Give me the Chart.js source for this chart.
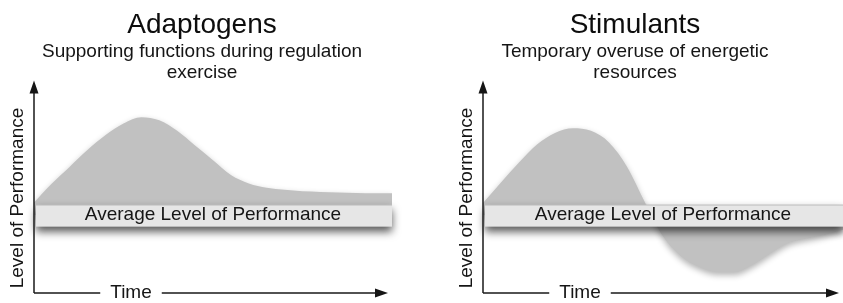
<!DOCTYPE html>
<html>
<head>
<meta charset="utf-8">
<script src="https://cdn.jsdelivr.net/npm/chart.js@4.4.1/dist/chart.umd.min.js"></script>
<style>
    body { margin: 0; background: #fff; width: 843px; height: 303px; position: relative; overflow: hidden; }
    canvas { position: absolute; top: 0; }
    #adaptogens { left: 0; }
    #stimulants { left: 421px; }
</style>
</head>
<body>
<canvas id="adaptogens" width="404" height="303"></canvas>
<canvas id="stimulants" width="422" height="303"></canvas>
<script>
// time steps (percent of the period shown)
const timeSteps = [0, 5, 10, 15, 20, 25, 30, 35, 40, 45, 50, 55, 60, 65, 70, 75, 80, 85, 90, 95, 100];

// level of performance (0 = x axis, 100 = top)
const adaptogenLevel = [43, 52, 60, 68, 75, 80.5, 83.5, 82, 77, 70, 63, 56, 52, 50, 49, 48.3, 48, 47.7, 47.5, 47.4, 47.4];
const stimulantLevel = [42.7, 52.5, 62, 70.5, 76, 78.2, 77, 71.5, 60, 43, 27, 17.5, 12.5, 10, 10, 13.5, 19, 24, 26, 27.8, 30];

// the "average level of performance" band
const averageLevel = 37;
const averageBand = [31.5, 42];

Chart.defaults.font.family = '"Liberation Sans", Arial, sans-serif';
Chart.defaults.color = '#111';

//band, axes, arrows and labels
const diagramPlugin = {
    id: 'diagram',
    beforeDatasetsDraw(chart) {
        const ctx = chart.ctx;
        ctx.save();
        ctx.shadowColor = 'rgba(0,0,0,0.3)';
        ctx.shadowBlur = 6;
        ctx.shadowOffsetY = 3;
    },
    afterDatasetsDraw(chart) {
        const ctx = chart.ctx;
        ctx.restore();
        const area = chart.chartArea;
        const y = chart.scales.y;
        const top = y.getPixelForValue(averageBand[1]);
        const bottom = y.getPixelForValue(averageBand[0]);
        const left = area.left + 2;

        ctx.save();
        ctx.shadowColor = 'rgba(0,0,0,0.65)';
        ctx.shadowBlur = 8;
        ctx.shadowOffsetY = 5;
        ctx.fillStyle = '#e6e6e6';
        ctx.fillRect(left, top, area.right - left, bottom - top);
        ctx.restore();
        ctx.strokeStyle = 'rgba(0,0,0,0.18)';
        ctx.lineWidth = 1;
        ctx.beginPath();
        ctx.moveTo(left, top + 0.5);
        ctx.lineTo(area.right, top + 0.5);
        ctx.stroke();

        ctx.fillStyle = '#151515';
        ctx.font = '19px "Liberation Sans", Arial, sans-serif';
        ctx.textAlign = 'center';
        ctx.textBaseline = 'middle';
        ctx.fillText('Average Level of Performance', (area.left + area.right) / 2, (top + bottom) / 2 - 0.5);

        // axes
        const x0 = area.left, yb = area.bottom;
        const tipX = area.right - 4;
        const timeX = area.left + 97;
        const timeW = ctx.measureText('Time').width;
        ctx.strokeStyle = '#1a1a1a';
        ctx.lineWidth = 1.5;
        ctx.beginPath();
        ctx.moveTo(x0, yb);
        ctx.lineTo(x0, area.top + 8);
        ctx.moveTo(x0, yb);
        ctx.lineTo(timeX - timeW / 2 - 10, yb);
        ctx.moveTo(timeX + timeW / 2 + 10, yb);
        ctx.lineTo(tipX - 8, yb);
        ctx.stroke();

        ctx.beginPath();
        ctx.moveTo(x0, area.top - 2);
        ctx.lineTo(x0 - 4.5, area.top + 11);
        ctx.lineTo(x0 + 4.5, area.top + 11);
        ctx.closePath();
        ctx.moveTo(tipX, yb);
        ctx.lineTo(tipX - 13, yb - 4.5);
        ctx.lineTo(tipX - 13, yb + 4.5);
        ctx.closePath();
        ctx.fill();

        ctx.fillText('Time', timeX, yb - 0.5);

        ctx.save();
        ctx.translate(area.left - 16, yb - 95);
        ctx.rotate(-Math.PI / 2);
        ctx.fillText('Level of Performance', 0, 0);
        ctx.restore();
    }
};

function makePanel(id, title, subtitle, values, padLeft, padRight, axisWidth) {
    return new Chart(id, {
        type: 'line',
        data: {
            labels: timeSteps,
            datasets: [{
                data: values,
                fill: { value: averageLevel },
                backgroundColor: '#c1c1c1',
                borderWidth: 0,
                pointRadius: 0,
                cubicInterpolationMode: 'monotone'
            }]
        },
        options: {
            responsive: false,
            animation: false,
            events: [],
            layout: { padding: { left: padLeft, right: padRight, top: 0, bottom: 10 } },
            plugins: {
                legend: { display: false },
                tooltip: { enabled: false },
                title: {
                    display: true,
                    text: title,
                    color: '#0d0d0d',
                    font: { size: 28, weight: 'normal', lineHeight: 1.2 },
                    padding: { top: 8.5, bottom: 0 }
                },
                subtitle: {
                    display: true,
                    text: subtitle,
                    color: '#151515',
                    font: { size: 19, lineHeight: 1.06 },
                    padding: { top: 0, bottom: 0 }
                }
            },
            scales: {
                x: { display: false, offset: false },
                y: {
                    min: 0,
                    max: 100,
                    ticks: { display: false },
                    grid: { display: false, drawTicks: false },
                    border: { display: false },
                    afterFit: function (scale) { scale.width = axisWidth; }
                }
            }
        },
        plugins: [diagramPlugin]
    });
}

makePanel('adaptogens', 'Adaptogens', ['Supporting functions during regulation', 'exercise'], adaptogenLevel, 12, 12, 22);
makePanel('stimulants', 'Stimulants', ['Temporary overuse of energetic', 'resources'], stimulantLevel, 6, 0, 56);
</script>
</body>
</html>
